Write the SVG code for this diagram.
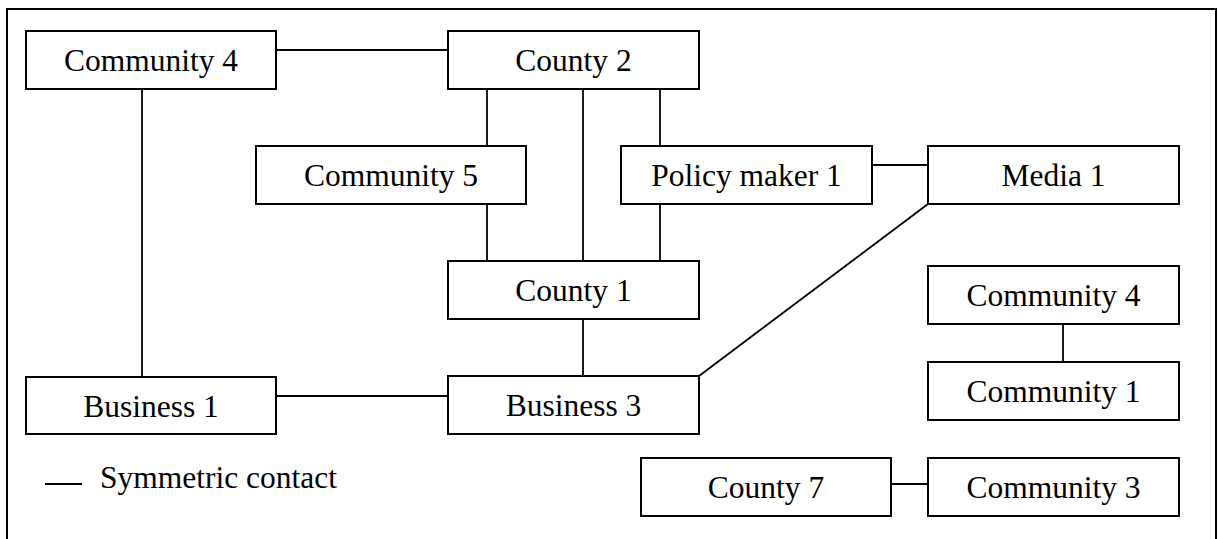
<svg xmlns="http://www.w3.org/2000/svg" width="1218" height="539" viewBox="0 0 1218 539">
<style>
.box{fill:#fff;stroke:#000;stroke-width:2}
.lbl{font-family:"Liberation Serif","Times New Roman",serif;font-size:31.5px;fill:#000;text-anchor:middle}
.leg{font-family:"Liberation Serif","Times New Roman",serif;font-size:31.5px;fill:#000}
.con{stroke:#000;stroke-width:1.8;fill:none}
</style>
<rect width="1218" height="539" fill="#fff"/>
<path d="M7,539 V9 H1216 V539" fill="none" stroke="#000" stroke-width="2"/>
<g id="connectors">
<line class="con" x1="276" y1="50" x2="448" y2="50"/>
<line class="con" x1="142" y1="89" x2="142" y2="377"/>
<line class="con" x1="487" y1="89" x2="487" y2="146"/>
<line class="con" x1="583" y1="89" x2="583" y2="261"/>
<line class="con" x1="660" y1="89" x2="660" y2="146"/>
<line class="con" x1="487" y1="204" x2="487" y2="261"/>
<line class="con" x1="660" y1="204" x2="660" y2="261"/>
<line class="con" x1="872" y1="165" x2="928" y2="165"/>
<line class="con" x1="928" y1="204" x2="699" y2="376"/>
<line class="con" x1="583" y1="319" x2="583" y2="376"/>
<line class="con" x1="276" y1="396" x2="448" y2="396"/>
<line class="con" x1="1063" y1="324" x2="1063" y2="362"/>
<line class="con" x1="891" y1="484" x2="928" y2="484"/>
</g>
<g id="community4a"><rect class="box" x="26" y="31" width="250" height="58"/><text class="lbl" x="151" y="71">Community 4</text></g>
<g id="county2"><rect class="box" x="448" y="31" width="251" height="58"/><text class="lbl" x="573.5" y="71">County 2</text></g>
<g id="community5"><rect class="box" x="256" y="146" width="270" height="58"/><text class="lbl" x="391" y="186">Community 5</text></g>
<g id="policymaker1"><rect class="box" x="621" y="146" width="251" height="58"/><text class="lbl" x="746.5" y="186">Policy maker 1</text></g>
<g id="media1"><rect class="box" x="928" y="146" width="251" height="58"/><text class="lbl" x="1053.5" y="186">Media 1</text></g>
<g id="county1"><rect class="box" x="448" y="261" width="251" height="58"/><text class="lbl" x="573.5" y="301">County 1</text></g>
<g id="community4b"><rect class="box" x="928" y="266" width="251" height="58"/><text class="lbl" x="1053.5" y="306">Community 4</text></g>
<g id="community1"><rect class="box" x="928" y="362" width="251" height="58"/><text class="lbl" x="1053.5" y="402">Community 1</text></g>
<g id="business1"><rect class="box" x="26" y="377" width="250" height="57"/><text class="lbl" x="151" y="417">Business 1</text></g>
<g id="business3"><rect class="box" x="448" y="376" width="251" height="58"/><text class="lbl" x="573.5" y="416">Business 3</text></g>
<g id="county7"><rect class="box" x="641" y="458" width="250" height="58"/><text class="lbl" x="766" y="498">County 7</text></g>
<g id="community3"><rect class="box" x="928" y="458" width="251" height="58"/><text class="lbl" x="1053.5" y="498">Community 3</text></g>
<g id="legend"><line class="con" x1="45" y1="484" x2="82" y2="484"/><text class="leg" x="100" y="488">Symmetric contact</text></g>
</svg>
